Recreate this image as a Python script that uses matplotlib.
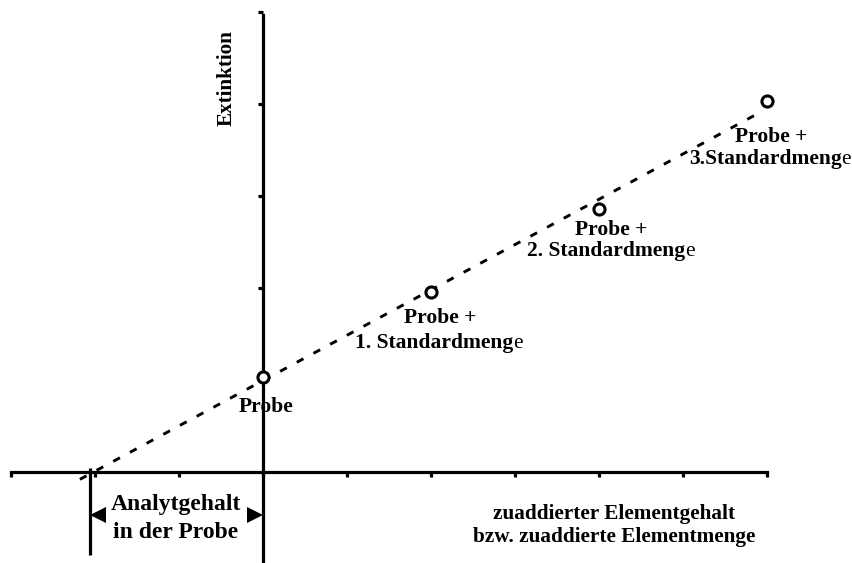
import numpy as np
import matplotlib
matplotlib.use("Agg")
import matplotlib.pyplot as plt

plt.rcParams['font.family'] = ['Liberation Serif', 'DejaVu Serif']

# Standardaddition: Probe + 0..3 Standardmengen
added = [0, 2, 4, 6]
extinction = [1.03, 1.96, 2.86, 4.03]
line_x = [-2.18, 5.92]
line_y = [-0.08, 3.91]

x_ticks = [-3, -2, -1, 0, 1, 2, 3, 4, 5, 6]
y_ticks = [1, 2, 3, 4, 5]

line1 = ['Probe', 'Probe +', 'Probe +', 'Probe +']
line2 = [None, '1. Standardmeng', '2. Standardmeng', '3.Standardmeng']
# Textversatz (Pixel) zur Grundlinie der Beschriftung
offs1 = [(3, -35), (9, -31), (12, -26), (4, -41)]
offs2 = [None, (8, -56), (12, -47), (3, -63)]

fig = plt.figure(figsize=(8.53, 5.63), dpi=100)
ax = fig.add_axes([0, 0, 1, 1])
ax.set_xlim(-263 / 84, 590 / 84)
ax.set_ylim(-91 / 92, 472 / 92)

lw = 2.3
for s in ['top', 'right']:
    ax.spines[s].set_visible(False)
ax.spines['left'].set_position(('data', 0))
ax.spines['bottom'].set_position(('data', 0))
ax.spines['left'].set_bounds(ax.get_ylim()[0], 4.97)
ax.spines['bottom'].set_bounds(-3, 6)
for s in ['left', 'bottom']:
    ax.spines[s].set_linewidth(lw)
ax.set_xticks(x_ticks)
ax.set_yticks(y_ticks)
ax.tick_params(direction='out', length=3.5, width=lw, labelbottom=False, labelleft=False)

# Ausgleichsgerade (gestrichelt) und Schnittpunkt mit der x-Achse
ax.plot(line_x, line_y, color='black', lw=2.1, dashes=(2.6, 3.9), zorder=3)
slope = (line_y[1] - line_y[0]) / (line_x[1] - line_x[0])
x0 = line_x[0] - line_y[0] / slope - 0.04
ax.plot([x0, x0], [0.04, -0.90], color='black', lw=lw, solid_capstyle='butt')

ax.plot(added, extinction, 'o', ms=8, mfc='white', mec='black', mew=2.2, zorder=4)

renderer = fig.canvas.get_renderer()
fs = 15.5
for i, (x, y) in enumerate(zip(added, extinction)):
    ax.annotate(line1[i], (x, y), xytext=offs1[i], textcoords='offset pixels',
                ha='center', va='baseline', fontsize=fs, fontweight='bold')
    if line2[i]:
        # fett gesetzt bis auf das letzte "e"
        ox, oy = offs2[i]
        tb = ax.annotate(line2[i], (x, y), xytext=(ox, oy), textcoords='offset pixels',
                         ha='left', va='baseline', fontsize=fs, fontweight='bold')
        te = ax.annotate('e', (x, y), xytext=(ox, oy), textcoords='offset pixels',
                         ha='left', va='baseline', fontsize=fs)
        wb = tb.get_window_extent(renderer).width
        we = te.get_window_extent(renderer).width
        left = ox - (wb + we) / 2
        tb.xyann = (left, oy)
        te.xyann = (left + wb, oy)

# Pfeile fuer den Analytgehalt
ya = -0.467
ax.plot([x0 + 0.095], [ya], marker='<', ms=11, color='black', mew=0)
ax.plot([-0.09], [ya], marker='>', ms=11, color='black', mew=0)
ax.text(-1.036, -0.413, 'Analytgehalt', ha='center', va='baseline',
        fontsize=17, fontweight='bold')
ax.text(-1.036, -0.717, 'in der Probe', ha='center', va='baseline',
        fontsize=17, fontweight='bold')

ax.text(4.18, -0.511, 'zuaddierter Elementgehalt', ha='center', va='baseline',
        fontsize=15.3, fontweight='bold')
ax.text(4.18, -0.761, 'bzw. zuaddierte Elementmenge', ha='center', va='baseline',
        fontsize=15.3, fontweight='bold')
ax.text(-0.429, 4.283, 'Extinktion', rotation=90, ha='center', va='center',
        fontsize=15.2, fontweight='bold')

fig.savefig('out.png', dpi=100)
